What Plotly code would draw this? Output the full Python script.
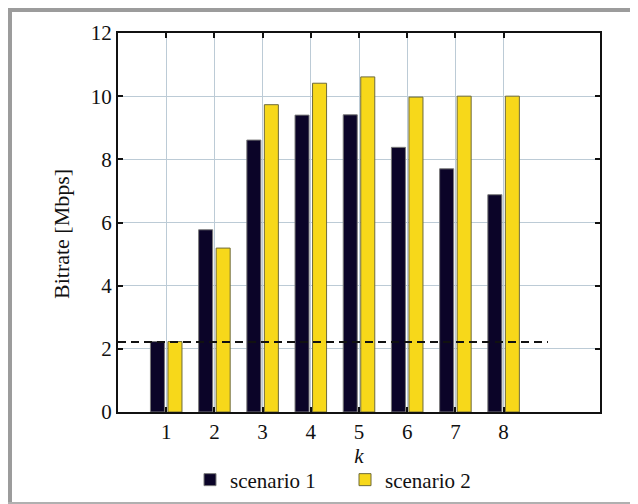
import plotly.graph_objects as go

k = [1, 2, 3, 4, 5, 6, 7, 8]
scenario1 = [2.23, 5.77, 8.61, 9.40, 9.41, 8.38, 7.70, 6.88]
scenario2 = [2.23, 5.19, 9.73, 10.41, 10.61, 9.97, 10.0, 10.0]
threshold_x = [0, 8.92]
threshold_y = [2.22, 2.22]
y_ticks = [0, 2, 4, 6, 8, 10, 12]

FONT = "Liberation Serif, Times New Roman, serif"

fig = go.Figure()
fig.add_trace(go.Bar(x=k, y=scenario1, name="scenario 1",
                     marker=dict(color="#0b0428", line=dict(color="#7a7a7a", width=1))))
fig.add_trace(go.Bar(x=k, y=scenario2, name="scenario 2",
                     marker=dict(color="#f7d81a", line=dict(color="#6e6a3a", width=1))))
fig.add_trace(go.Scatter(x=threshold_x, y=threshold_y, mode="lines",
                         line=dict(color="#111111", width=2, dash="8px,5px"),
                         showlegend=False, hoverinfo="skip"))

# page body has an 8px margin: work in figure coordinates = screen - 8
OFF = 8
W, H = 638 - OFF, 504 - OFF
L, T = 118 - OFF, 33 - OFF
R = W - (600 - OFF)
B = H - (412 - OFF)
pw, ph = W - L - R, H - T - B

def px(x):
    return (x - OFF - L) / pw

def py(y):
    return (H - B - (y - OFF)) / ph

grey = "#9c9c9c"
shapes = [
    dict(type="rect", xref="paper", yref="paper", x0=px(8), x1=px(638), y0=py(12), y1=py(8),
         fillcolor=grey, line=dict(width=0), layer="above"),
    dict(type="rect", xref="paper", yref="paper", x0=px(8), x1=px(12), y0=py(503), y1=py(8),
         fillcolor=grey, line=dict(width=0), layer="above"),
    dict(type="rect", xref="paper", yref="paper", x0=px(8), x1=px(638), y0=py(504), y1=py(502),
         fillcolor="#b0b0b0", line=dict(width=0), layer="above"),
]

fig.update_layout(
    width=W, height=H,
    margin=dict(l=L, r=R, t=T, b=B, autoexpand=False),
    paper_bgcolor="white", plot_bgcolor="white",
    barmode="group", bargap=0.273, bargroupgap=0.2,
    font=dict(family=FONT, size=21, color="#111111"),
    shapes=shapes,
    annotations=[dict(text="Bitrate [Mbps]", textangle=-90, xref="paper", yref="paper",
                      x=px(61), y=py(234), xanchor="center", yanchor="middle",
                      showarrow=False, font=dict(family=FONT, size=22, color="#111111"))],
    legend=dict(orientation="h", x=px(190), y=py(480), xanchor="left", yanchor="middle",
                font=dict(family=FONT, size=21), itemwidth=30, entrywidth=110,
                tracegroupgap=0, bgcolor="rgba(0,0,0,0)"),
    xaxis=dict(range=[0, 10], tickvals=k, ticktext=[str(v) for v in k],
               showgrid=True, gridcolor="#bccbd6", gridwidth=1,
               showline=True, linecolor="#111111", linewidth=2, mirror="ticks",
               ticks="inside", ticklen=5, tickcolor="#111111", tickwidth=2,
               title=dict(text="<i>k</i>", standoff=3, font=dict(size=21)),
               zeroline=False, automargin=False),
    yaxis=dict(range=[0, 12], tickvals=y_ticks,
               showgrid=True, gridcolor="#bccbd6", gridwidth=1,
               showline=True, linecolor="#111111", linewidth=2, mirror="ticks",
               ticks="inside", ticklen=5, tickcolor="#111111", tickwidth=2,
               zeroline=False, automargin=False),
)

fig.write_html("out.html")
